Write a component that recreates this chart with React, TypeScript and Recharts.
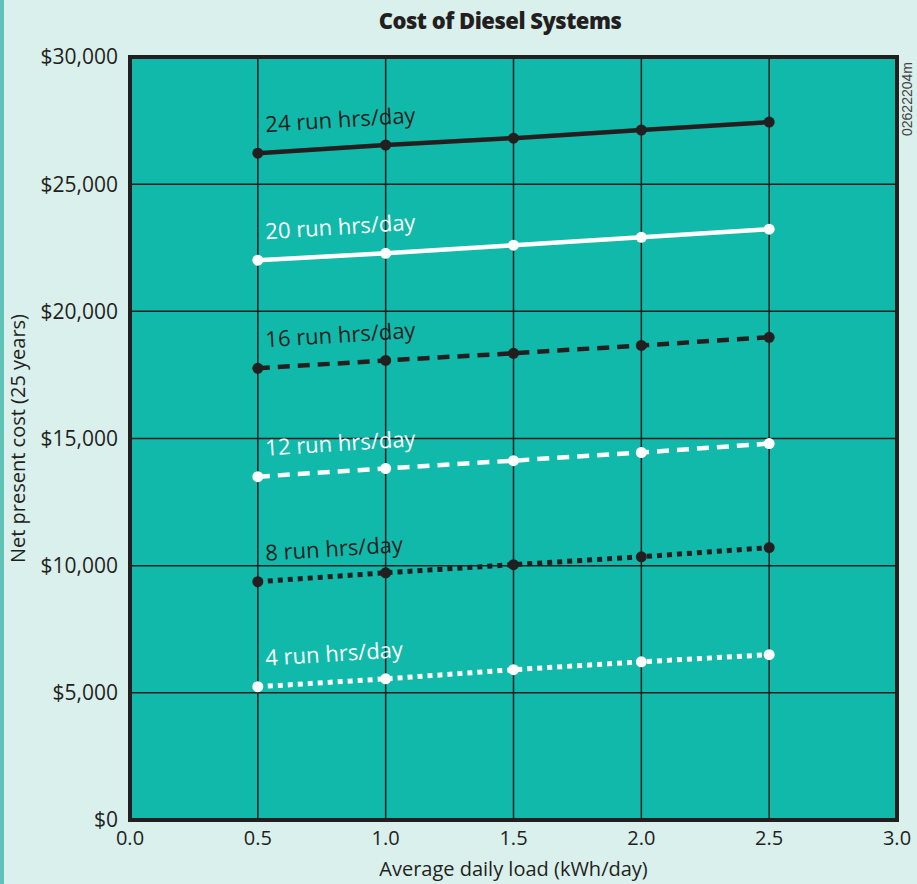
import { CartesianGrid, LabelList, Line, LineChart, ReferenceArea, XAxis, YAxis } from "recharts";

// load in kWh/day
const loads = [0.5, 1.0, 1.5, 2.0, 2.5];

// net present cost, 25 years, by run hours per day
const cost24 = [26220, 26540, 26810, 27130, 27440];
const cost20 = [22010, 22280, 22600, 22910, 23230];
const cost16 = [17760, 18070, 18350, 18660, 18980];
const cost12 = [13500, 13820, 14130, 14450, 14800];
const cost8 = [9370, 9720, 10040, 10350, 10710];
const cost4 = [5240, 5550, 5910, 6220, 6500];

const xTicks = [0, 0.5, 1.0, 1.5, 2.0, 2.5, 3.0];
const yTicks = [0, 5000, 10000, 15000, 20000, 25000, 30000];

const data = loads.map((load, i) => ({
  load,
  h24: cost24[i],
  h20: cost20[i],
  h16: cost16[i],
  h12: cost12[i],
  h8: cost8[i],
  h4: cost4[i],
}));

const DARK = "#231f20";
const WHITE = "#ffffff";
const TEAL = "#10b9aa";
const BG = "#daf0ec";
const FONT = "'Open Sans', sans-serif";

const series = [
  { key: "h24", label: "24 run hrs/day", color: DARK, dash: undefined },
  { key: "h20", label: "20 run hrs/day", color: WHITE, dash: undefined },
  { key: "h16", label: "16 run hrs/day", color: DARK, dash: "12 8" },
  { key: "h12", label: "12 run hrs/day", color: WHITE, dash: "12 8" },
  { key: "h8", label: "8 run hrs/day", color: DARK, dash: "5 5" },
  { key: "h4", label: "4 run hrs/day", color: WHITE, dash: "5 5" },
];

const makeLabel = (text: string, color: string) => (props: any) => {
  const { x, y, index } = props;
  if (index !== 0) return null;
  const tx = x + 8;
  const ty = y - 21;
  return (
    <text
      x={tx}
      y={ty}
      fill={color}
      fontSize={22}
      fontWeight={500}
      fontFamily={FONT}
      transform={`rotate(-3.6, ${tx}, ${ty})`}
    >
      {text}
    </text>
  );
};

export default function App() {
  return (
    <div style={{ position: "absolute", left: 0, top: 0, width: 917, height: 884, background: BG, overflow: "hidden" }}>
      <div style={{ position: "absolute", left: 0, top: 0, width: 4, height: 884, background: "#5fc4b7" }} />
      <div
        style={{
          position: "absolute",
          left: 0,
          top: 5,
          width: 917,
          textAlign: "center",
          fontFamily: FONT,
          fontWeight: 800,
          fontSize: 22,
          letterSpacing: -0.5,
          color: DARK,
          paddingLeft: 83,
          boxSizing: "border-box",
        }}
      >
        Cost of Diesel Systems
      </div>
      <div
        style={{
          position: "absolute",
          left: 899,
          top: 136,
          transform: "rotate(-90deg)",
          transformOrigin: "0 0",
          fontFamily: "'Liberation Sans', sans-serif",
          fontSize: 14,
          lineHeight: "16px",
          color: "#444",
          whiteSpace: "nowrap",
        }}
      >
        02622204m
      </div>
      <div style={{ position: "absolute", left: 0, top: 0 }}>
        <LineChart width={917} height={884} data={data} margin={{ top: 57, right: 20, bottom: 0, left: 0 }}>
          <CartesianGrid fill={TEAL} stroke={DARK} strokeWidth={1.5} strokeOpacity={1} />
          <XAxis
            dataKey="load"
            type="number"
            domain={[0, 3]}
            ticks={xTicks}
            tickFormatter={(v: number) => v.toFixed(1)}
            axisLine={false}
            tickLine={false}
            height={64}
            tick={{ fill: DARK, fontSize: 20, fontFamily: FONT, dy: 3 }}
            label={{ value: "Average daily load (kWh/day)", position: "insideBottom", offset: 8, fill: DARK, fontSize: 20, fontFamily: FONT }}
          />
          <YAxis
            type="number"
            domain={[0, 30000]}
            ticks={yTicks}
            tickFormatter={(v: number) => "$" + v.toLocaleString("en-US")}
            axisLine={false}
            tickLine={false}
            width={130}
            tick={{ fill: DARK, fontSize: 21, fontFamily: FONT, dx: -4 }}
            label={{ value: "Net present cost (25 years)", angle: -90, position: "insideLeft", offset: 18, fill: DARK, fontSize: 20, fontFamily: FONT, style: { textAnchor: "middle" } }}
          />
          <ReferenceArea x1={0} x2={3} y1={0} y2={30000} fill="none" stroke={DARK} strokeWidth={4} ifOverflow="visible" />
          {series.map((s) => (
            <Line
              key={s.key}
              dataKey={s.key}
              type="linear"
              stroke={s.color}
              strokeWidth={s.dash === "5 5" ? 5 : 4.5}
              strokeDasharray={s.dash}
              dot={{ r: 5.5, fill: s.color, stroke: s.color, strokeWidth: 0, strokeDasharray: "" }}
              activeDot={false}
              isAnimationActive={false}
            >
              <LabelList dataKey={s.key} content={makeLabel(s.label, s.color)} />
            </Line>
          ))}
        </LineChart>
      </div>
    </div>
  );
}
